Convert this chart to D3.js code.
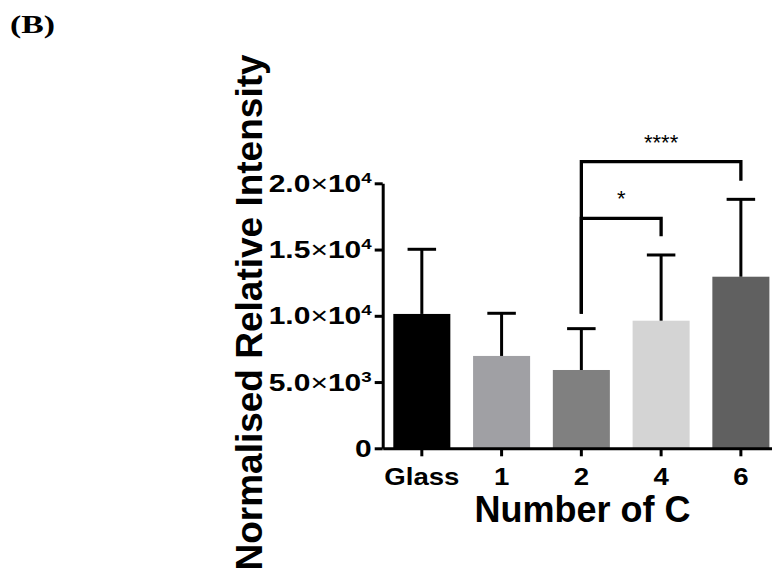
<!DOCTYPE html>
<html>
<head>
<meta charset="utf-8">
<script src="https://cdn.jsdelivr.net/npm/d3@7"></script>
<style>
  body { margin: 0; background: #fff; }
  svg { display: block; }
  text { font-family: Arial, 'Liberation Sans', sans-serif; }
</style>
</head>
<body>
<svg width="772" height="571"></svg>
<script>
// 数据
const categories = ['Glass', '1', '2', '4', '6'];
const means = [10140, 6970, 5910, 9630, 12950];
const sds = [4880, 3220, 3120, 4960, 5840];
const barFill = ['#000000', '#a0a0a4', '#808080', '#d4d4d4', '#606060'];

const yTicks = [0, 5000, 10000, 15000, 20000];
const yTickMantissa = ['0', '5.0', '1.0', '1.5', '2.0'];
const yTickExp = ['', '3', '4', '4', '4'];

// 显著性标记 (数据单位)
const sigPairs = [['2', '4'], ['2', '6']];
const sigLabels = ['*', '****'];
const sigTop = [17350, 21630];
const sigLeftEnd = [10150, 10150];
const sigRightEnd = [16000, 20200];

let svg = d3.select('svg');
svg.append('rect').attr('width', 772).attr('height', 571).attr('fill', '#fff');

let x = d3.scaleBand()
    .domain(categories)
    .range([382.7, 780])
    .paddingInner(0.285)
    .paddingOuter(0.133);
let y = d3.scaleLinear()
    .domain([0, 20000])
    .range([448.3, 183.3]);

//画柱子
svg.append('g')
    .selectAll('rect')
    .data(categories)
    .enter()
    .append('rect')
    .attr('x', d => x(d))
    .attr('y', (d, i) => y(means[i]))
    .attr('width', x.bandwidth())
    .attr('height', (d, i) => y(0) - y(means[i]))
    .attr('fill', (d, i) => barFill[i]);

//误差线
let err = svg.append('g')
    .attr('stroke', '#000')
    .attr('stroke-width', 3);
categories.forEach(function(c, i){
    let cx = x(c) + x.bandwidth() / 2;
    let top = y(means[i] + sds[i]);
    err.append('line')
        .attr('x1', cx).attr('x2', cx)
        .attr('y1', y(means[i])).attr('y2', top);
    err.append('line')
        .attr('x1', cx - x.bandwidth() / 4).attr('x2', cx + x.bandwidth() / 4)
        .attr('y1', top).attr('y2', top);
});

//坐标轴
let xAxis = svg.append('g')
    .attr('transform', `translate(0,${y(0)})`)
    .call(d3.axisBottom(x).tickSize(8).tickSizeOuter(0).tickFormat(''));
let yAxis = svg.append('g')
    .attr('transform', `translate(${x.range()[0]},0)`)
    .call(d3.axisLeft(y).tickValues(yTicks).tickSize(8).tickSizeOuter(0).tickFormat(''));
[xAxis, yAxis].forEach(function(a){
    a.select('.domain').attr('stroke', '#000').attr('stroke-width', 3);
    a.selectAll('.tick line').attr('stroke', '#000').attr('stroke-width', 3);
});

// x 刻度标签
xAxis.selectAll('.tick')
    .append('g')
    .attr('transform', 'translate(0,36.7) scale(1.2,1)')
    .append('text')
    .attr('text-anchor', 'middle')
    .attr('font-size', 23)
    .attr('font-weight', 'bold')
    .attr('fill', '#000')
    .text(d => d);

// y 刻度标签 (科学计数)
yAxis.selectAll('.tick').each(function(d, i){
    let t = d3.select(this)
        .append('g')
        .attr('transform', 'translate(-11,8) scale(1.25,1)')
        .append('text')
        .attr('text-anchor', 'end')
        .attr('font-size', 24)
        .attr('font-weight', 'bold')
        .attr('fill', '#000');
    t.append('tspan').text(yTickMantissa[i]);
    if(yTickExp[i]){
        t.append('tspan').attr('font-weight', 'normal').text('\u00d7');
        t.append('tspan').text('10');
        t.append('tspan').attr('font-size', 15).attr('dy', -9).text(yTickExp[i]);
    }
});

//显著性括号
let sig = svg.append('g');
sigPairs.forEach(function(p, i){
    let x1 = x(p[0]) + x.bandwidth() / 2;
    let x2 = x(p[1]) + x.bandwidth() / 2;
    let pts = [[x1, y(sigLeftEnd[i])], [x1, y(sigTop[i])], [x2, y(sigTop[i])], [x2, y(sigRightEnd[i])]];
    sig.append('path')
        .attr('d', d3.line()(pts))
        .attr('fill', 'none')
        .attr('stroke', '#000')
        .attr('stroke-width', 3.3);
    sig.append('text')
        .attr('x', (x1 + x2) / 2)
        .attr('y', y(sigTop[i]) - 12)
        .attr('text-anchor', 'middle')
        .attr('font-size', 22)
        .attr('fill', '#000')
        .text(sigLabels[i]);
});

//坐标轴标题
svg.append('text')
    .attr('transform', 'translate(262,312.5) rotate(-90)')
    .attr('text-anchor', 'middle')
    .attr('font-size', 37)
    .attr('font-weight', 'bold')
    .text('Normalised Relative Intensity');
svg.append('text')
    .attr('x', 582.4)
    .attr('y', 521.7)
    .attr('text-anchor', 'middle')
    .attr('font-size', 36)
    .attr('font-weight', 'bold')
    .text('Number of C');

// 面板标签
svg.append('g')
    .attr('transform', 'translate(10,33) scale(1.35,1)')
    .append('text')
    .style('font-family', "'Times New Roman', 'Liberation Serif', serif")
    .attr('font-size', 25)
    .attr('font-weight', 'bold')
    .text('(B)');
</script>
</body>
</html>
